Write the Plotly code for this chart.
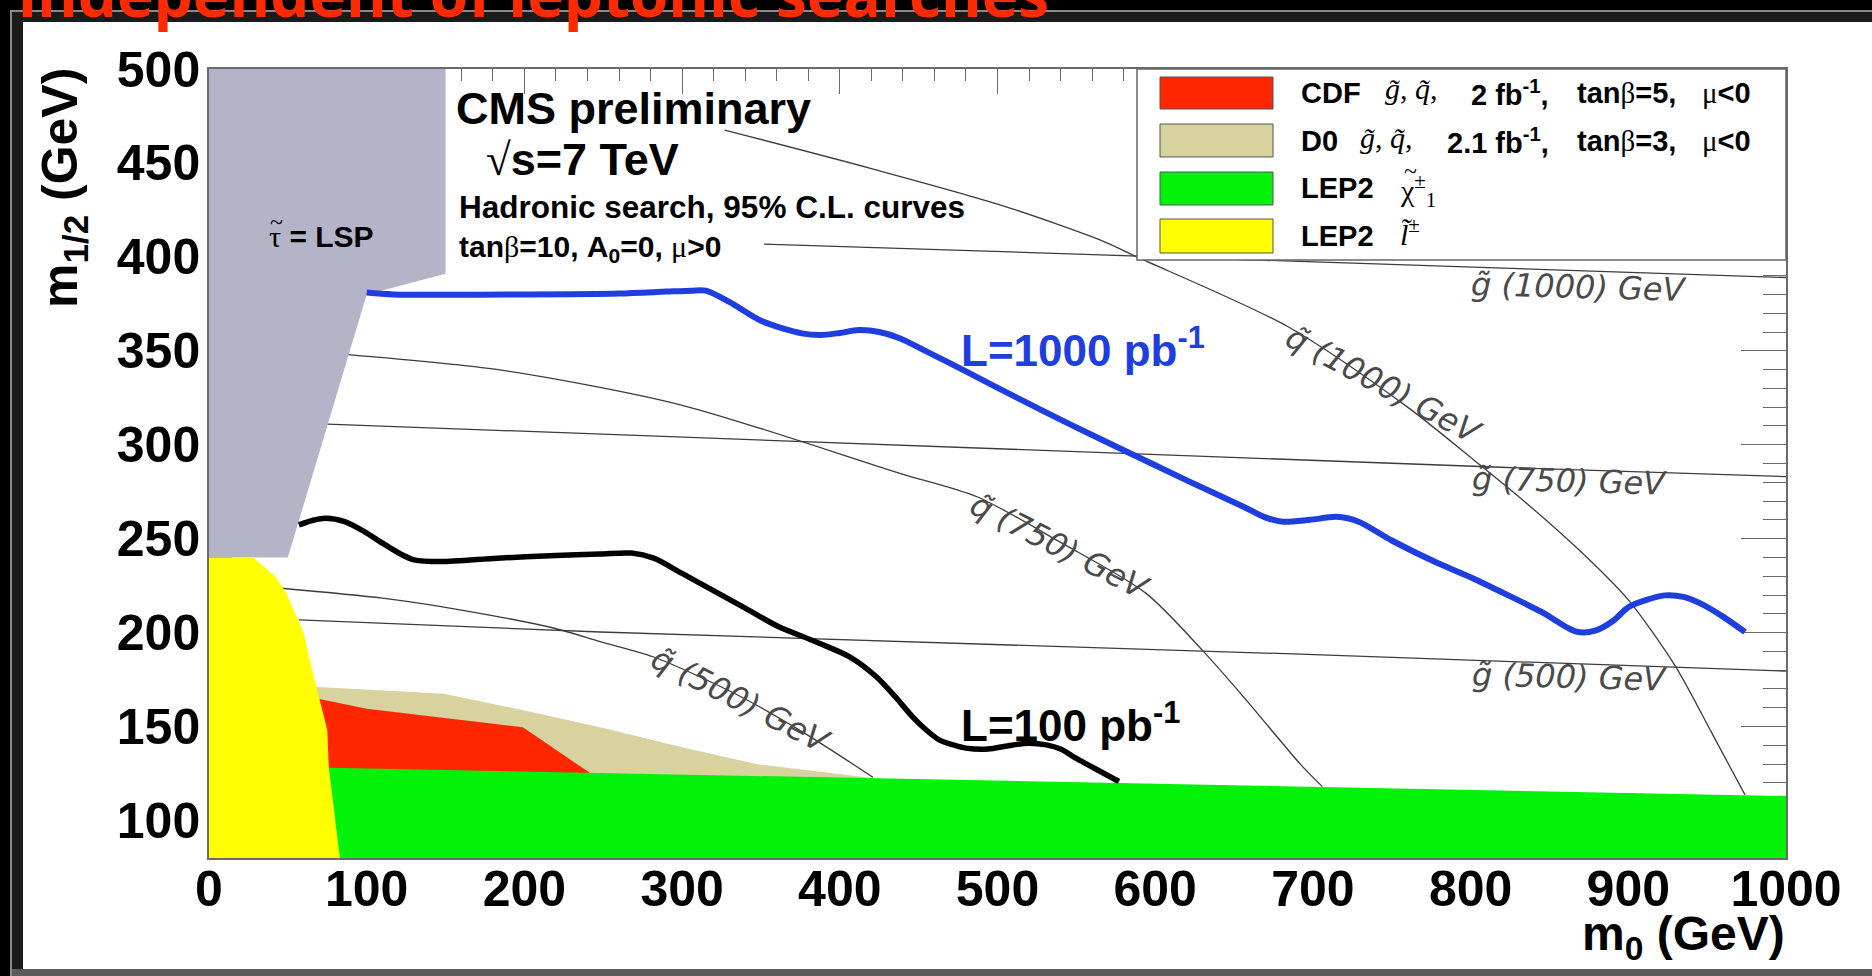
import plotly.graph_objects as go

# ---------------------------------------------------------------------------
# Exclusion regions in the (m0, m1/2) plane, GeV
# ---------------------------------------------------------------------------
lsp_m0 = [0, 150, 150, 100, 50, 0]
lsp_m12 = [500, 500, 391, 380, 240, 240]

d0_m0 = [60, 69, 149, 200, 248, 300, 347, 390, 418, 430, 430, 60]
d0_m12 = [171, 171, 167.4, 158.5, 149.6, 139, 130, 125.5, 122.9, 121, 100, 100]

cdf_m0 = [60, 70, 100, 156, 199, 241, 241, 60]
cdf_m12 = [165, 164.7, 159.4, 154, 149.6, 125.6, 110, 110]

lep_chargino_m0 = [60, 60, 400, 700, 1000, 1000]
lep_chargino_m12 = [80, 128.3, 122.8, 117.9, 113, 80]

lep_slepton_m0 = [0, 0, 28, 42, 49, 55, 60, 64, 68, 75, 76, 83]
lep_slepton_m12 = [80, 240, 240, 230, 221, 210, 200, 185, 171, 148, 128, 80]

# 95% C.L. reach curves of the hadronic search
lumi1000_m0 = [100, 117, 200, 260, 290, 306, 315, 330, 350, 376, 388, 400, 412, 425, 438, 453,
               480, 511, 548, 584, 620, 656, 669, 681, 698, 715, 729, 750, 779, 800, 821, 845,
               867, 879, 890, 900, 912, 923, 935, 946, 960, 974]
lumi1000_m12 = [381, 380, 380, 380.5, 381.5, 382, 382, 376, 366, 359.3, 358.4, 359.5, 361, 360, 356.7,
                350.5, 339, 325.6, 310, 295.5, 281, 267, 261.6, 259, 260, 261.6, 259, 249, 237,
                229.5, 221, 211, 200.5, 201, 206, 213.5, 217.5, 219.8, 219, 215.4, 208.5, 200.3]

lumi100_m0 = [57, 66, 74, 86, 98, 110, 120, 130, 147, 183, 220, 248, 268, 282, 300, 319, 340, 361,
              385, 406, 423, 435, 446, 455, 463, 472, 480, 494, 507, 520, 531, 540, 548, 562, 577]
lumi100_m12 = [257.3, 259.8, 260.9, 259.1, 254, 247.6, 242.5, 238.7, 237.8, 239.6, 241, 241.8,
               242.3, 239.6, 231.5, 222.7, 213, 203.2, 195, 187.2, 176.6, 166, 155.3, 148, 142.9,
               140.2, 138.5, 138, 139.8, 141.1, 140.2, 138, 134, 127.5, 120.7]

# Iso-mass contours
gluino500_m0 = [57, 248, 692, 1000]
gluino500_m12 = [206.8, 200.3, 188.5, 179.5]
gluino750_m0 = [75, 438, 819, 1000]
gluino750_m12 = [311, 299.6, 288, 283]
gluino1000_m0 = [352, 565, 1000]
gluino1000_m12 = [406.8, 401.1, 389]

squark500_m0 = [46, 110, 159, 219, 248, 282, 333, 375, 421]
squark500_m12 = [223.6, 218.3, 212.1, 202.3, 195.2, 187, 167.7, 147.8, 123]
squark750_m0 = [88, 184.5, 300, 438, 487, 540, 594, 630, 658, 692, 706]
squark750_m12 = [348, 339.8, 321, 284.8, 272.3, 248, 221, 190.5, 163.8, 130, 118]
squark1000_m0 = [327, 420, 502, 565, 588, 684, 760, 802, 833, 870, 900, 930, 953, 974]
squark1000_m12 = [467.5, 447, 427.6, 409, 400.1, 362.9, 320, 291.9, 270.6, 243, 217.4, 181.9, 146.5, 113.6]

# Axis ticks
x_ticks = [0, 100, 200, 300, 400, 500, 600, 700, 800, 900, 1000]
y_ticks = [100, 150, 200, 250, 300, 350, 400, 450, 500]

# ---------------------------------------------------------------------------
W, H = 1872, 976
PL, PR, PT, PB = 209, 1786, 69, 858          # plot frame in page pixels


def px(x):
    return (x - PL) / (PR - PL)


def py(y):
    return (PB - y) / (PB - PT)


SANS = "Liberation Sans, Arial, sans-serif"
SERIF = "Liberation Serif, Times New Roman, serif"
ISO = "DejaVu Sans, sans-serif"
THIN = "#3c3c3c"


def serif(s):
    return f'<span style="font-family:{SERIF};font-weight:normal">{s}</span>'


fig = go.Figure()


def area(xs, ys, color):
    fig.add_trace(go.Scatter(x=xs, y=ys, mode="lines", fill="toself", fillcolor=color,
                             line=dict(width=0, color=color), hoverinfo="skip", showlegend=False))


def curve(xs, ys, color, width, smooth=True):
    fig.add_trace(go.Scatter(x=xs, y=ys, mode="lines",
                             line=dict(color=color, width=width,
                                       shape="spline" if smooth else "linear",
                                       smoothing=0.8),
                             hoverinfo="skip", showlegend=False))


# thin iso-mass lines first, so the shaded regions sit on top of them
curve(gluino500_m0, gluino500_m12, THIN, 1.3, smooth=False)
curve(gluino750_m0, gluino750_m12, THIN, 1.3, smooth=False)
curve(gluino1000_m0, gluino1000_m12, THIN, 1.3, smooth=False)
curve(squark500_m0, squark500_m12, THIN, 1.3)
curve(squark750_m0, squark750_m12, THIN, 1.3)
curve(squark1000_m0, squark1000_m12, THIN, 1.3)

area(lsp_m0, lsp_m12, "#b3b4c8")
area(d0_m0, d0_m12, "#d8d29e")
area(cdf_m0, cdf_m12, "#ff2600")
area(lep_chargino_m0, lep_chargino_m12, "#02f20a")
area(lep_slepton_m0, lep_slepton_m12, "#ffff00")

curve(lumi100_m0, lumi100_m12, "#000000", 5.5)
curve(lumi1000_m0, lumi1000_m12, "#1e3ee0", 6)

# ---------------------------------------------------------------------------
shapes = []
# page frame
shapes.append(dict(type="rect", xref="paper", yref="paper", x0=px(11), x1=px(1900),
                   y0=py(11), y1=py(1000), fillcolor="#1b1b1b",
                   line=dict(color="#8a8a8a", width=2), layer="below"))
shapes.append(dict(type="rect", xref="paper", yref="paper", x0=px(12), x1=px(1900),
                   y0=py(969), y1=py(1000), fillcolor="#5c5c5c", line=dict(width=0), layer="below"))
shapes.append(dict(type="rect", xref="paper", yref="paper", x0=px(23), x1=px(1900),
                   y0=py(22), y1=py(969), fillcolor="#ffffff", line=dict(width=0), layer="below"))

# legend box
shapes.append(dict(type="rect", xref="paper", yref="paper", x0=px(1137), x1=px(1786),
                   y0=py(69), y1=py(260), fillcolor="#ffffff",
                   line=dict(color="#666666", width=1.5), layer="above"))
legend_colors = ["#ff2600", "#d8d29e", "#02f20a", "#ffff00"]
legend_rows = [(77, 109), (124, 157), (172, 205), (219, 253)]
for c, (y0, y1) in zip(legend_colors, legend_rows):
    shapes.append(dict(type="rect", xref="paper", yref="paper", x0=px(1160), x1=px(1273),
                       y0=py(y0), y1=py(y1), fillcolor=c,
                       line=dict(color="#555555", width=1), layer="above"))

annotations = []


def label(x, y, text, size, color="#000000", family=SANS, bold=True, xanchor="left",
          angle=0, data=False, italic=False):
    annotations.append(dict(
        x=x, y=y, xref="x" if data else "paper", yref="y" if data else "paper",
        text=text, showarrow=False,
        xanchor=xanchor, yanchor="middle", textangle=angle,
        font=dict(family=family, size=size, color=color,
                  weight="bold" if bold else "normal",
                  style="italic" if italic else "normal")))


# heading on the dark band
annotations.append(dict(x=px(1051), y=py(37), xref="paper", yref="paper",
                        text="independent of leptonic searches", showarrow=False,
                        xanchor="right", yanchor="bottom",
                        font=dict(family="Open Sans, sans-serif", size=62, color="#ff2a00",
                                  weight="bold")))

# axis titles
label(px(63), py(188), "m<sub>1/2</sub> (GeV)", 50, angle=-90, xanchor="center")
label(px(1787), py(937), "m<sub>0</sub> (GeV)", 48, xanchor="right")

# legend text
rows = [93, 141, 188, 236]
label(px(1299), py(rows[0]), "CDF", 29)
label(px(1383), py(rows[0] - 4), serif("<i>g̃</i>, <i>q̃</i>,"), 30)
label(px(1469), py(rows[0]), "2 fb<sup>-1</sup>,", 29)
label(px(1575), py(rows[0]), "tan" + serif("β") + "=5,", 29)
label(px(1700), py(rows[0]), serif("μ") + "&lt;0", 29)
label(px(1299), py(rows[1]), "D0", 29)
label(px(1358), py(rows[1] - 4), serif("<i>g̃</i>, <i>q̃</i>,"), 30)
label(px(1445), py(rows[1]), "2.1 fb<sup>-1</sup>,", 29)
label(px(1575), py(rows[1]), "tan" + serif("β") + "=3,", 29)
label(px(1700), py(rows[1]), serif("μ") + "&lt;0", 29)
label(px(1299), py(rows[2]), "LEP2", 29)
label(px(1398), py(rows[2] + 2), serif("χ<sup>±</sup><sub>1</sub>"), 30)
label(px(1410), py(171), "~", 24, family=SERIF, bold=False, xanchor="center")
label(px(1299), py(rows[3]), "LEP2", 29)
label(px(1398), py(rows[3] - 4), serif("<i>l̃</i><sup>±</sup>"), 30)

# header text inside the frame
label(155.4, 479.2, "CMS preliminary", 45, data=True)
label(174.4, 451.6, serif("√") + "s=7 TeV", 45, data=True)
label(157.3, 426.6, "Hadronic search, 95% C.L. curves", 31.5, data=True)
label(157.3, 404.7, "tan" + serif("β") + "=10, A<sub>0</sub>=0, " + serif("μ") + "&gt;0", 30, data=True)
label(36.8, 410.6, serif("τ") + " = LSP", 30, data=True)
label(px(276), py(222), "~", 24, family=SERIF, bold=False, xanchor="center")

# curve labels
label(475.6, 352, "L=1000 pb<sup>-1</sup>", 44, color="#1e3ee0", data=True)
label(475.6, 152, "L=100 pb<sup>-1</sup>", 44, data=True)

# iso-mass labels
iso_font = dict(family=ISO, bold=False, italic=True, color="#4a4a4a", data=True, xanchor="center")
label(869, 383.7, "g̃ (1000) GeV", 32, angle=1.5, **iso_font)
label(863, 280.7, "g̃ (750) GeV", 32, angle=1.5, **iso_font)
label(863, 176.6, "g̃ (500) GeV", 32, angle=1.5, **iso_font)
label(745, 332, "q̃ (1000) GeV", 32, angle=28, **iso_font)
label(539, 246, "q̃ (750) GeV", 32, angle=27, **iso_font)
label(337, 164, "q̃ (500) GeV", 32, angle=27, **iso_font)

axis_common = dict(showline=True, linecolor="#6a6a6a", linewidth=1.5, mirror="ticks",
                   ticks="inside", tickcolor="#6a6a6a", tickwidth=1.3, showgrid=False,
                   zeroline=False, layer="below traces",
                   tickfont=dict(family=SANS, size=50, color="#000000", weight="bold"))

fig.update_layout(
    width=W, height=H,
    margin=dict(l=PL, r=W - PR, t=PT, b=H - PB),
    paper_bgcolor="#000000", plot_bgcolor="rgba(0,0,0,0)",
    showlegend=False,
    shapes=shapes, annotations=annotations,
    xaxis=dict(range=[0, 1000], tickvals=x_ticks, ticklen=25, ticklabelstandoff=-14,
               minor=dict(dtick=20, tick0=0, ticklen=12, ticks="inside", tickcolor="#6a6a6a"),
               **axis_common),
    yaxis=dict(range=[80, 500], tickvals=y_ticks, ticklen=45, ticklabelstandoff=-3,
               minor=dict(dtick=10, tick0=0, ticklen=23, ticks="inside", tickcolor="#6a6a6a"),
               **axis_common),
)

fig.write_html("out.html")
